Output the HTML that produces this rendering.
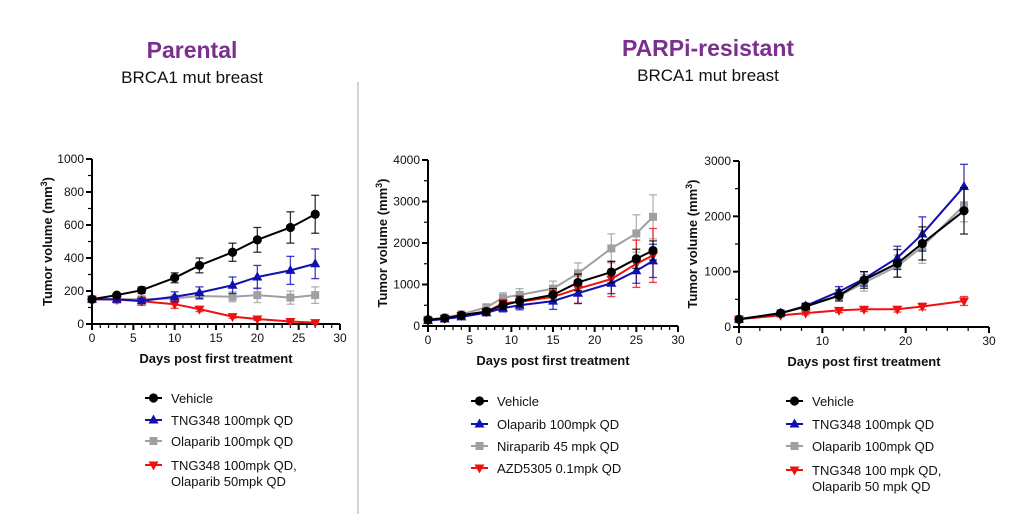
<!DOCTYPE html>
<html><head><meta charset="utf-8"><style>
body{margin:0;background:#fff;}
svg{display:block;font-family:"Liberation Sans",Arial,sans-serif;}
</style></head><body>
<svg id="s" width="1026" height="514" viewBox="0 0 1026 514">
<text x="192" y="58" text-anchor="middle" font-size="23" font-weight="bold" fill="#7b2f8e">Parental</text>
<text x="192" y="83" text-anchor="middle" font-size="17" fill="#111">BRCA1 mut breast</text>
<text x="708" y="56" text-anchor="middle" font-size="23" font-weight="bold" fill="#7b2f8e">PARPi-resistant</text>
<text x="708" y="81" text-anchor="middle" font-size="17" fill="#111">BRCA1 mut breast</text>
<line x1="358" y1="82" x2="358" y2="514" stroke="#aaa" stroke-width="1"/>
</svg>
<script>
const NS="http://www.w3.org/2000/svg";
const svg=document.getElementById('s');
// Chart 1 data
const c1Days=[0,3,6,10,13,17,20,24,27];
const c1Vehicle=[150,175,205,280,355,435,510,585,665];
const c1VehicleErr=[10,12,20,30,45,55,75,95,115];
const c1Tng=[150,150,140,165,190,235,285,325,365];
const c1TngErr=[15,15,15,30,35,50,70,85,90];
const c1Ola=[150,150,150,155,170,165,175,160,175];
const c1OlaErr=[10,15,15,20,20,30,45,40,50];
const c1Combo=[150,148,138,120,90,45,30,15,8];
const c1ComboErr=[10,20,25,25,15,10,8,5,4];
const c1YTicks=[0,200,400,600,800,1000];
// Chart 2 data
const c2Days=[0,2,4,7,9,11,15,18,22,25,27];
const c2Vehicle=[150,190,260,350,500,600,750,1050,1300,1620,1820];
const c2VehicleErr=[40,50,60,70,100,120,150,200,260,230,230];
const c2Nira=[150,200,280,450,680,750,900,1270,1870,2230,2630];
const c2NiraErr=[50,50,60,80,120,150,180,250,350,450,530];
const c2Ola=[130,170,220,320,430,500,600,790,1030,1330,1570];
const c2OlaErr=[40,50,60,70,90,110,200,250,250,300,400];
const c2Azd=[140,180,250,340,550,580,700,900,1130,1500,1700];
const c2AzdErr=[40,60,60,70,90,120,150,350,420,570,650];
const c2YTicks=[0,1000,2000,3000,4000];
// Chart 3 data
const c3Days=[0,5,8,12,15,19,22,27];
const c3Vehicle=[140,250,370,570,850,1150,1510,2100];
const c3VehicleErr=[30,40,50,100,150,250,300,420];
const c3Tng=[140,250,380,640,870,1250,1680,2540];
const c3TngErr=[30,40,50,90,130,210,310,400];
const c3Ola=[140,250,370,560,800,1100,1450,2200];
const c3OlaErr=[30,40,50,90,150,200,300,300];
const c3Combo=[140,210,250,300,320,320,370,470];
const c3ComboErr=[20,30,30,40,40,50,60,80];
const c3YTicks=[0,1000,2000,3000];
const xTicks=[0,5,10,15,20,25,30];
const xTicks3=[0,10,20,30];

function el(tag,attrs,parent){const e=document.createElementNS(NS,tag);for(const k in attrs)e.setAttribute(k,attrs[k]);(parent||svg).appendChild(e);return e;}
function marker(g,shape,x,y,c){
  if(shape==='circle')el('circle',{cx:x,cy:y,r:4.6,fill:c},g);
  else if(shape==='square')el('rect',{x:x-4,y:y-4,width:8,height:8,fill:c},g);
  else if(shape==='up')el('polygon',{points:`${x},${y-5.5} ${x-5},${y+3.5} ${x+5},${y+3.5}`,fill:c},g);
  else el('polygon',{points:`${x},${y+5.5} ${x-5},${y-3.5} ${x+5},${y-3.5}`,fill:c},g);
}
function chart(name,ax,series,yTicks,yMinor,xT,xMinor,ytitleX){
  const sx=v=>ax.x0+(ax.x1-ax.x0)*v/30;
  const ymax=yTicks[yTicks.length-1];
  const sy=v=>ax.y0-(ax.y0-ax.y1)*v/ymax;
  const g=el('g',{});
  
  
  const axg=el('g',{stroke:'#000','stroke-width':2},g);
  el('line',{x1:ax.x0,y1:ax.y0,x2:ax.x1,y2:ax.y0},axg);
  el('line',{x1:ax.x0,y1:ax.y0,x2:ax.x0,y2:ax.y1},axg);
  for(let v=0;v<=30+1e-6;v+=xMinor){const big=xT.some(t=>Math.abs(t-v)<1e-6);el('line',{x1:sx(v),y1:ax.y0,x2:sx(v),y2:ax.y0+(big?6:4),'stroke-width':big?2:1.2},axg);}
  for(let v=0;v<=ymax+1e-6;v+=yMinor){const big=yTicks.some(t=>Math.abs(t-v)<1e-6);el('line',{x1:ax.x0,y1:sy(v),x2:ax.x0-(big?6:4),y2:sy(v),'stroke-width':big?2:1.2},axg);}
  xT.forEach(t=>{const e=el('text',{x:sx(t),y:ax.y0+18,'text-anchor':'middle','font-size':12,fill:'#111'},g);e.textContent=t;
    
    });
  yTicks.forEach(t=>{const e=el('text',{x:ax.x0-8,y:sy(t)+4,'text-anchor':'end','font-size':12,fill:'#111'},g);e.textContent=t;
    
    });
  const xt=el('text',{x:(ax.x0+ax.x1)/2,y:ax.y0+39,'text-anchor':'middle','font-size':13,'font-weight':'bold',fill:'#111'},g);
  xt.textContent='Days post first treatment';
  
  
  const yc=(ax.y0+ax.y1)/2;
  const yt=el('text',{x:ytitleX,y:yc,transform:`rotate(-90 ${ytitleX} ${yc})`,'text-anchor':'middle','font-size':13,'font-weight':'bold',fill:'#111'},g);
  yt.innerHTML='Tumor volume (mm<tspan dy="-5" font-size="9">3</tspan><tspan dy="5">)</tspan>';
  
  
  series.forEach(s=>{
    const sg=el('g',{},g);
    
    
    s.x.forEach((d,i)=>{const X=sx(d),a=sy(s.y[i]+s.e[i]),b=sy(Math.max(0,s.y[i]-s.e[i]));
      el('line',{x1:X,y1:a,x2:X,y2:b,stroke:s.c,'stroke-width':1.3,opacity:.8},sg);
      el('line',{x1:X-4,y1:a,x2:X+4,y2:a,stroke:s.c,'stroke-width':1.3,opacity:.8},sg);
      el('line',{x1:X-4,y1:b,x2:X+4,y2:b,stroke:s.c,'stroke-width':1.3,opacity:.8},sg);});
    el('polyline',{points:s.x.map((d,i)=>sx(d)+','+sy(s.y[i])).join(' '),fill:'none',stroke:s.c,'stroke-width':2},sg);
    s.x.forEach((d,i)=>marker(sg,s.m,sx(d),sy(s.y[i]),s.c));
  });
}
function legend(name,x,ys,items){
  const g=el('g',{});
  
  
  items.forEach((it,i)=>{
    const y=ys[i];
    el('line',{x1:x,y1:y,x2:x+17,y2:y,stroke:it.c,'stroke-width':2},g);
    marker(g,it.m,x+8.5,y,it.c);
    it.t.forEach((line,j)=>{const e=el('text',{x:x+26,y:y+5+j*16,'font-size':13,fill:'#111'},g);e.textContent=line;
      
      });
  });
}
const K='#000',B='#1010b0',G='#a0a0a0',R='#ee1111';
chart('chart-parental',{x0:92,x1:340,y0:324,y1:159},[
 {id:'olaparib',x:c1Days,y:c1Ola,e:c1OlaErr,c:G,m:'square'},
 {id:'combo',x:c1Days,y:c1Combo,e:c1ComboErr,c:R,m:'down'},
 {id:'tng348',x:c1Days,y:c1Tng,e:c1TngErr,c:B,m:'up'},
 {id:'vehicle',x:c1Days,y:c1Vehicle,e:c1VehicleErr,c:K,m:'circle'}],c1YTicks,100,xTicks,1,52);
chart('chart-resistant-1',{x0:428,x1:678,y0:326,y1:160},[
 {id:'niraparib',x:c2Days,y:c2Nira,e:c2NiraErr,c:G,m:'square'},
 {id:'azd5305',x:c2Days,y:c2Azd,e:c2AzdErr,c:R,m:'down'},
 {id:'olaparib',x:c2Days,y:c2Ola,e:c2OlaErr,c:B,m:'up'},
 {id:'vehicle',x:c2Days,y:c2Vehicle,e:c2VehicleErr,c:K,m:'circle'}],c2YTicks,500,xTicks,1,387);
chart('chart-resistant-2',{x0:739,x1:989,y0:327,y1:161},[
 {id:'combo',x:c3Days,y:c3Combo,e:c3ComboErr,c:R,m:'down'},
 {id:'olaparib',x:c3Days,y:c3Ola,e:c3OlaErr,c:G,m:'square'},
 {id:'tng348',x:c3Days,y:c3Tng,e:c3TngErr,c:B,m:'up'},
 {id:'vehicle',x:c3Days,y:c3Vehicle,e:c3VehicleErr,c:K,m:'circle'}],c3YTicks,500,xTicks3,2.5,697);
legend('legend-parental',145,[398,420,441,465],[
 {c:K,m:'circle',t:['Vehicle']},{c:B,m:'up',t:['TNG348 100mpk QD']},{c:G,m:'square',t:['Olaparib 100mpk QD']},{c:R,m:'down',t:['TNG348 100mpk QD,','Olaparib 50mpk QD']}]);
legend('legend-resistant-1',471,[401,424,446,468],[
 {c:K,m:'circle',t:['Vehicle']},{c:B,m:'up',t:['Olaparib 100mpk QD']},{c:G,m:'square',t:['Niraparib 45 mpk QD']},{c:R,m:'down',t:['AZD5305 0.1mpk QD']}]);
legend('legend-resistant-2',786,[401,424,446,470],[
 {c:K,m:'circle',t:['Vehicle']},{c:B,m:'up',t:['TNG348 100mpk QD']},{c:G,m:'square',t:['Olaparib 100mpk QD']},{c:R,m:'down',t:['TNG348 100 mpk QD,','Olaparib 50 mpk QD']}]);
</script>
</body></html>
